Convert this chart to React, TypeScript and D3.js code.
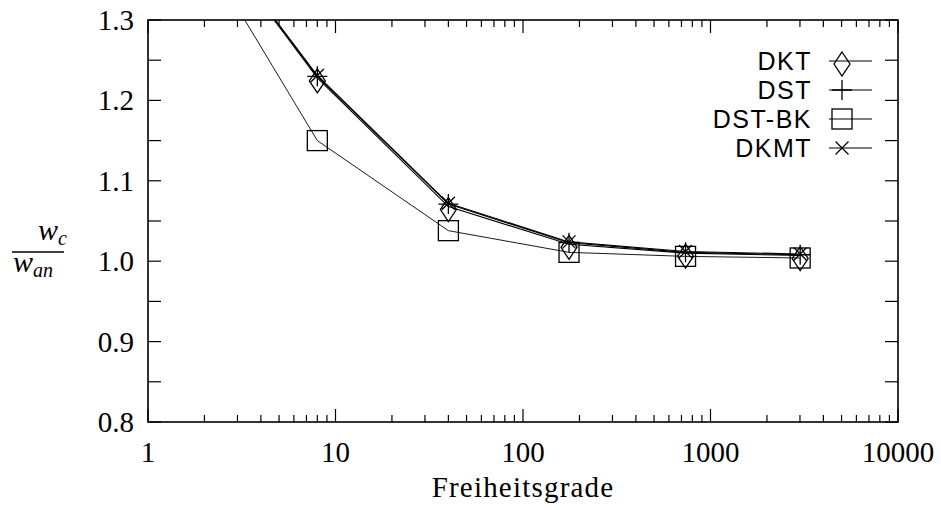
import React, { useEffect, useRef } from 'react';
import * as d3 from 'd3';

// degrees of freedom (x) and ratio w_c / w_an per element type
const freiheitsgrade = [1, 8, 40, 176, 736, 3008];
const dkt = [1.51, 1.228, 1.068, 1.021, 1.01, 1.007];
const dst = [1.51, 1.23, 1.071, 1.023, 1.011, 1.008];
const dstBk = [1.5, 1.15, 1.038, 1.011, 1.006, 1.004];
const dkmt = [1.51, 1.231, 1.072, 1.024, 1.012, 1.009];

const seriesNames = ['DKT', 'DST', 'DST-BK', 'DKMT'];
const xTickLabels = [1, 10, 100, 1000, 10000];
const yTickLabels = [0.8, 0.9, 1.0, 1.1, 1.2, 1.3];

function drawMarker(g, kind, cx, cy) {
    const m = g.append('g').attr('transform', `translate(${cx},${cy})`)
        .attr('fill', 'none').attr('stroke', 'black').attr('stroke-width', 1.3);
    if (kind === 'DKT') {
        m.append('path').attr('d', 'M0,-9 L8,3 L0,15 L-8,3 Z').attr('fill', 'white').attr('fill-opacity', 0);
    } else if (kind === 'DST') {
        m.append('path').attr('d', 'M-10,0 L10,0 M0,-10 L0,10');
    } else if (kind === 'DST-BK') {
        m.append('rect').attr('x', -10).attr('y', -10).attr('width', 20).attr('height', 20);
    } else {
        m.append('path').attr('d', 'M-6.5,-6.5 L6.5,6.5 M-6.5,6.5 L6.5,-6.5');
    }
}

function App() {
    const svgRef = useRef(null);

    useEffect(() => {
        const width = 941;
        const height = 510;
        const margin = { top: 20, right: 43, bottom: 88, left: 148 };

        const svg = d3.select(svgRef.current)
            .attr('width', width)
            .attr('height', height);
        svg.selectAll('*').remove();

        const x = d3.scaleLog().domain([1, 10000]).range([margin.left, width - margin.right]);
        const y = d3.scaleLinear().domain([0.8, 1.3]).range([height - margin.bottom, margin.top]);
        const [x0, x1] = x.range();
        const [y0, y1] = y.range();

        svg.append('clipPath').attr('id', 'plot-clip')
            .append('rect').attr('x', x0).attr('y', y1).attr('width', x1 - x0).attr('height', y0 - y1);

        // ticks
        const ticks = svg.append('g').attr('stroke', 'black').attr('stroke-width', 1.2);
        const yTicks = d3.range(0.8, 1.3001, 0.05);
        yTicks.forEach(v => {
            ticks.append('line').attr('x1', x0).attr('x2', x0 + 13).attr('y1', y(v)).attr('y2', y(v));
            ticks.append('line').attr('x1', x1).attr('x2', x1 - 13).attr('y1', y(v)).attr('y2', y(v));
        });
        x.ticks().forEach(v => {
            const major = xTickLabels.includes(v);
            const len = major ? 13 : 7;
            ticks.append('line').attr('x1', x(v)).attr('x2', x(v)).attr('y1', y0).attr('y2', y0 - len);
            ticks.append('line').attr('x1', x(v)).attr('x2', x(v)).attr('y1', y1).attr('y2', y1 + len);
        });

        // frame
        svg.append('rect')
            .attr('x', x0).attr('y', y1).attr('width', x1 - x0).attr('height', y0 - y1)
            .attr('fill', 'none').attr('stroke', 'black').attr('stroke-width', 1.6);

        const serif = '"Liberation Serif", "Times New Roman", serif';
        svg.append('g').selectAll('text').data(yTickLabels).join('text')
            .attr('x', x0 - 14).attr('y', d => y(d) + 10)
            .attr('text-anchor', 'end')
            .attr('font-family', serif).attr('font-size', 29)
            .text(d => d.toFixed(1));

        svg.append('g').selectAll('text').data(xTickLabels).join('text')
            .attr('x', d => x(d)).attr('y', y0 + 40)
            .attr('text-anchor', 'middle')
            .attr('font-family', serif).attr('font-size', 29)
            .text(d => String(d));

        svg.append('text')
            .attr('x', 523).attr('y', 497)
            .attr('text-anchor', 'middle')
            .attr('font-family', serif).attr('font-size', 29)
            .attr('letter-spacing', 1.2)
            .text('Freiheitsgrade');

        // y label as fraction w_c / w_an
        const ylab = svg.append('g').attr('font-family', serif).attr('font-style', 'italic');
        const num = ylab.append('text').attr('x', 38).attr('y', 240).attr('font-size', 30);
        num.append('tspan').text('w');
        num.append('tspan').attr('font-size', 20).attr('dy', 5).text('c');
        svg.append('line').attr('x1', 12).attr('x2', 64).attr('y1', 252).attr('y2', 252)
            .attr('stroke', 'black').attr('stroke-width', 1.3);
        const den = ylab.append('text').attr('x', 13).attr('y', 272).attr('font-size', 30);
        den.append('tspan').text('w');
        den.append('tspan').attr('font-size', 20).attr('dy', 5).text('an');

        // data
        const series = [
            { name: 'DKT', values: dkt, width: 1.1 },
            { name: 'DST', values: dst, width: 1.1 },
            { name: 'DST-BK', values: dstBk, width: 0.9 },
            { name: 'DKMT', values: dkmt, width: 1.1 },
        ];

        const line = d3.line()
            .x((d, i) => x(freiheitsgrade[i]))
            .y(d => y(d));

        const plot = svg.append('g').attr('clip-path', 'url(#plot-clip)');
        series.forEach(s => {
            plot.append('path')
                .datum(s.values)
                .attr('fill', 'none')
                .attr('stroke', 'black')
                .attr('stroke-width', s.width)
                .attr('d', line);
        });
        series.forEach(s => {
            s.values.forEach((v, i) => drawMarker(plot, s.name, x(freiheitsgrade[i]), y(v)));
        });

        // legend
        const sans = '"Liberation Sans", Arial, sans-serif';
        const legend = svg.append('g');
        seriesNames.forEach((name, i) => {
            const cy = 61 + i * 29;
            legend.append('text')
                .attr('x', 812).attr('y', cy + 9)
                .attr('text-anchor', 'end')
                .attr('font-family', sans).attr('font-size', 25)
                .attr('letter-spacing', 1.5)
                .text(name);
            legend.append('line')
                .attr('x1', 829).attr('x2', 872).attr('y1', cy).attr('y2', cy)
                .attr('stroke', 'black').attr('stroke-width', 1.1);
            drawMarker(legend, name, 842, cy);
        });
    }, []);

    return (
        <div>
            <style>{'body { margin: 0; background: white; }'}</style>
            <svg ref={svgRef}></svg>
        </div>
    );
}

export default App;
